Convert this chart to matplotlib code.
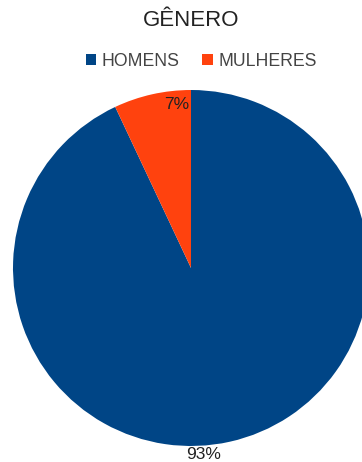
import matplotlib
matplotlib.use("Agg")
import matplotlib.pyplot as plt
from matplotlib.patches import Patch

title = "GÊNERO"
categories = ["HOMENS", "MULHERES"]
values = [93, 7]
labels = ["93%", "7%"]
colors = ["#004586", "#FF420E"]

plt.rcParams['font.family'] = ['Liberation Sans', 'DejaVu Sans']

W, H = 362, 462
fig = plt.figure(figsize=(W / 100, H / 100), dpi=100)
fig.patch.set_facecolor("white")

cx, cy, r = 191, 268, 178
ax = fig.add_axes([(cx - r) / W, (H - cy - r) / H, 2 * r / W, 2 * r / H])
ax.set_xlim(-1, 1)
ax.set_ylim(-1, 1)
ax.set_aspect("equal")
ax.axis("off")

wedges, texts = ax.pie(values, colors=colors, startangle=90, counterclock=False,
                       radius=1, wedgeprops=dict(linewidth=0))
ax.set_xlim(-1, 1)
ax.set_ylim(-1, 1)

label_pos = [(0.073, -1.045), (-0.079, 0.921)]
for lab, (x, y) in zip(labels, label_pos):
    ax.text(x, y, lab, ha="center", va="center", fontsize=12.5, color="#222222",
            clip_on=False)

fig.text(191.5 / W, 1 - 20 / H, title, ha="center", va="center",
         fontsize=16, color="#222222")

handles = [Patch(facecolor=c, edgecolor="none") for c in colors]
leg = fig.legend(handles, categories, loc="center", ncol=2, frameon=False,
                 bbox_to_anchor=(201 / W, 1 - 61 / H), fontsize=12.7,
                 handlelength=0.6, handleheight=0.6, handletextpad=0.3,
                 columnspacing=1.3, borderpad=0, borderaxespad=0)
for t in leg.get_texts():
    t.set_color("#444444")

fig.savefig("out.png", dpi=100, facecolor="white")
